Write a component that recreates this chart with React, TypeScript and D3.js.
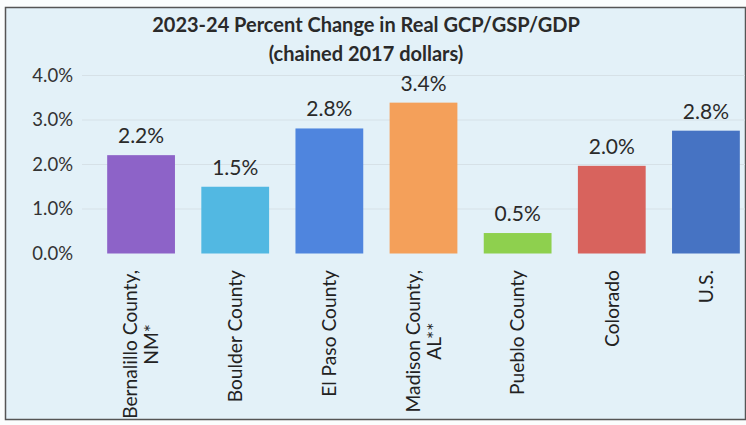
import React, { useEffect, useRef } from "react";
import * as d3 from "d3";

const categories: string[][] = [
  ["Bernalillo County,", "NM*"],
  ["Boulder County"],
  ["El Paso County"],
  ["Madison County,", "AL**"],
  ["Pueblo County"],
  ["Colorado"],
  ["U.S."],
];
const values: number[] = [2.21, 1.5, 2.81, 3.39, 0.46, 1.97, 2.76];
const colors: string[] = ["#8d63c8", "#52b8e2", "#4f85de", "#f4a05a", "#8ed04e", "#d8635d", "#4673c3"];
const yTicks: number[] = [0, 1, 2, 3, 4];
const titleLines: string[] = ["2023-24 Percent Change in Real GCP/GSP/GDP", "(chained 2017 dollars)"];

const W = 746;
const H = 425;
const FONT = "Lato, 'Open Sans', sans-serif";

export default function App() {
  const ref = useRef<SVGSVGElement | null>(null);

  useEffect(() => {
    const svg = d3.select(ref.current);
    svg.selectAll("*").remove();

    svg.append("rect").attr("x", 0).attr("y", 0).attr("width", W).attr("height", H).attr("fill", "#fbfdfd");
    svg
      .append("rect")
      .attr("x", 5.5)
      .attr("y", 7.5)
      .attr("width", 740)
      .attr("height", 412)
      .attr("fill", "#e3f1f8")
      .attr("stroke", "#555")
      .attr("stroke-width", 1.5);

    const y = d3.scaleLinear().domain([0, 4]).range([253.5, 75.5]);
    const x = d3
      .scaleBand<number>()
      .domain(d3.range(categories.length))
      .range([94, 753])
      .paddingInner(0.28)
      .paddingOuter(0.14);

    // gridlines
    svg
      .append("g")
      .selectAll("line")
      .data(yTicks.slice(1))
      .join("line")
      .attr("x1", 82)
      .attr("x2", 745)
      .attr("y1", (d) => y(d))
      .attr("y2", (d) => y(d))
      .attr("stroke", "#d6e1e7")
      .attr("stroke-width", 1);

    // y tick labels
    svg
      .append("g")
      .selectAll("text")
      .data(yTicks)
      .join("text")
      .attr("x", 73)
      .attr("y", (d) => y(d))
      .attr("dy", "0.35em")
      .attr("text-anchor", "end")
      .attr("font-family", FONT)
      .attr("font-size", 18.5)
      .attr("fill", "#333")
      .text((d) => d3.format(".1f")(d) + "%");

    // bars
    svg
      .append("g")
      .selectAll("rect")
      .data(values)
      .join("rect")
      .attr("x", (_, i) => x(i)!)
      .attr("width", x.bandwidth())
      .attr("y", (d) => y(d))
      .attr("height", (d) => y(0) - y(d))
      .attr("fill", (_, i) => colors[i]);

    // value labels
    svg
      .append("g")
      .selectAll("text")
      .data(values)
      .join("text")
      .attr("x", (_, i) => x(i)! + x.bandwidth() / 2)
      .attr("y", (d) => y(d) - 12)
      .attr("text-anchor", "middle")
      .attr("font-family", FONT)
      .attr("font-size", 21)
      .attr("fill", "#2a2a2a")
      .text((d) => d3.format(".1f")(d) + "%");

    // category labels (rotated, block top at y=270, lines centered within block)
    const topY = 270;
    const lineGap = 21;
    categories.forEach((lines, i) => {
      const cx = x(i)! + x.bandwidth() / 2;
      const g = svg.append("g");
      const texts = lines.map((ln) =>
        g
          .append("text")
          .attr("font-family", FONT)
          .attr("font-size", 19.2)
          .attr("fill", "#222")
          .attr("text-anchor", "middle")
          .attr("dy", "0.35em")
          .text(ln)
      );
      const lens = texts.map((t) => (t.node() as SVGTextElement).getComputedTextLength());
      const maxLen = d3.max(lens) || 0;
      const centerY = topY + maxLen / 2;
      const n = lines.length;
      texts.forEach((t, k) => {
        const lx = cx + (k - (n - 1) / 2) * lineGap;
        t.attr("transform", `translate(${lx},${centerY}) rotate(-90)`);
      });
    });

    // title
    svg
      .append("g")
      .selectAll("text")
      .data(titleLines)
      .join("text")
      .attr("x", 366)
      .attr("y", (_, i) => 32 + i * 29)
      .attr("text-anchor", "middle")
      .attr("font-family", FONT)
      .attr("font-weight", "bold")
      .attr("font-size", 20)
      .attr("fill", "#2a2a2a")
      .text((d) => d);
  }, []);

  return (
    <svg
      ref={ref}
      width={W}
      height={H}
      style={{ position: "absolute", left: 0, top: 0, display: "block" }}
    />
  );
}
